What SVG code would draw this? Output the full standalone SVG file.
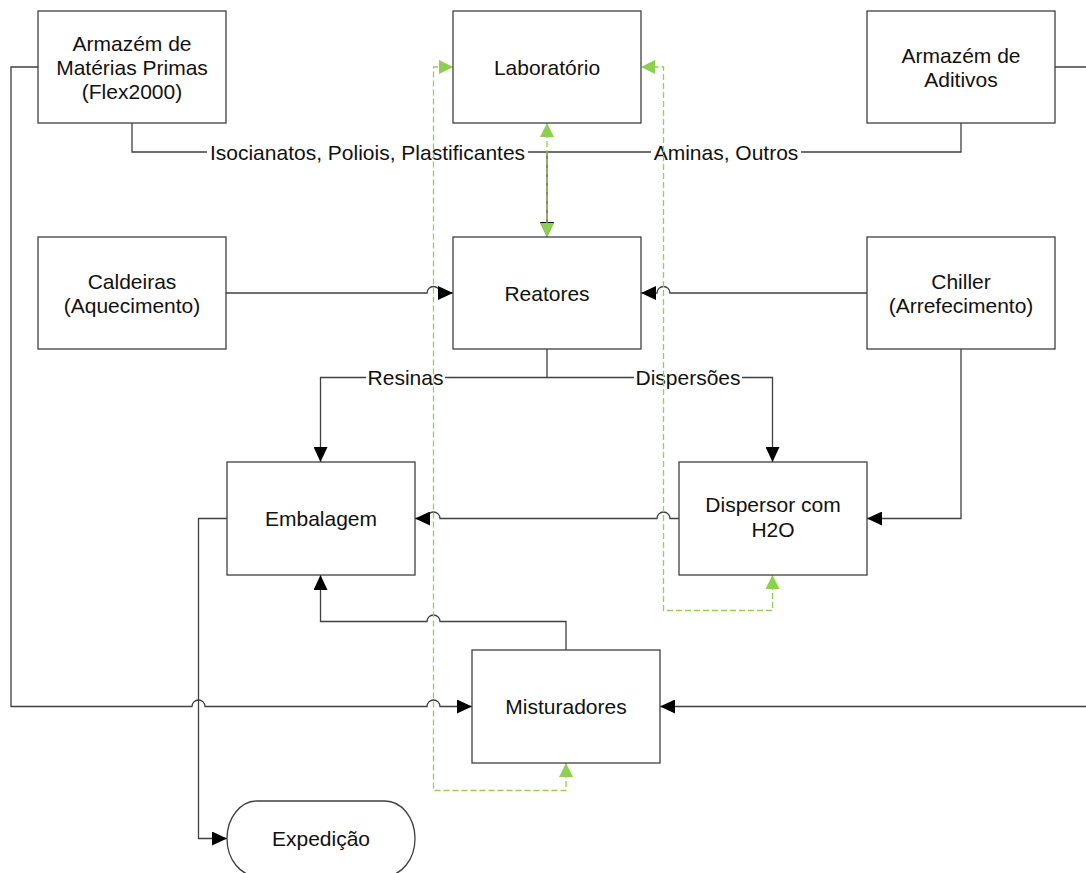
<svg xmlns="http://www.w3.org/2000/svg" width="1086" height="873" viewBox="0 0 1086 873">
<style>
.box{fill:#fff;stroke:#404040;stroke-width:1.3}
.t{font-family:"Liberation Sans",Arial,sans-serif;font-size:21px;fill:#111;text-anchor:middle}
.c{fill:none;stroke:#404040;stroke-width:1.3}
.ca{fill:none;stroke:#404040;stroke-width:1.3;marker-end:url(#ab)}
.g{fill:none;stroke:#92D050;stroke-width:1.3;stroke-dasharray:6,3;marker-start:url(#ag);marker-end:url(#ag)}
.lb{fill:#fff}
</style>
<defs>
<marker id="ab" markerUnits="userSpaceOnUse" markerWidth="16" markerHeight="14" refX="15" refY="7" orient="auto-start-reverse" viewBox="0 0 16 14">
<path d="M0,0 L15,7 L0,14 z" fill="#000"/>
</marker>
<marker id="ag" markerUnits="userSpaceOnUse" markerWidth="15" markerHeight="14" refX="14" refY="7" orient="auto-start-reverse" viewBox="0 0 15 14">
<path d="M0,0 L14,7 L0,14 z" fill="#8DCF4F"/>
</marker>
</defs>
<rect width="1086" height="873" fill="#fff"/>
<g id="connectors">
<path class="ca" d="M132,123 V152 H547 V237"/>
<path class="c" d="M961,123 V152 H547"/>
<path class="ca" d="M226,293 H427 A6.5,6.5 0 0 1 440,293 H453"/>
<path class="ca" d="M867,293 H670 A6.5,6.5 0 0 0 657,293 H641"/>
<path class="ca" d="M547,349 V377.5 H320.5 V462"/>
<path class="ca" d="M547,377.5 H772.5 V462"/>
<path class="ca" d="M961,349 V518.5 H867"/>
<path class="ca" d="M679,518.5 H670 A6.5,6.5 0 0 0 657,518.5 H440 A6.5,6.5 0 0 0 427,518.5 H415"/>
<path class="ca" d="M566,650 V621.5 H440 A6.5,6.5 0 0 0 427,621.5 H320.5 V575"/>
<path class="ca" d="M227,518.5 H198.5 V838.5 H227"/>
<path class="ca" d="M38,67 H11 V706.5 H192 A6.5,6.5 0 0 1 205,706.5 H427 A6.5,6.5 0 0 1 440,706.5 H472"/>
<path class="ca" d="M1055,67 H1095 V706.5 H660"/>
<rect class="lb" x="207" y="140" width="321" height="25"/>
<text class="t" x="367.5" y="159.5">Isocianatos, Poliois, Plastificantes</text>
<rect class="lb" x="651" y="140" width="150" height="25"/>
<text class="t" x="726" y="159.5">Aminas, Outros</text>
<rect class="lb" x="366" y="365" width="79" height="25"/>
<text class="t" x="405.5" y="385">Resinas</text>
<rect class="lb" x="634" y="365" width="108" height="25"/>
<text class="t" x="688" y="385">Dispersões</text>
<path class="g" d="M566,763 V790.5 H433.5 V67 H453"/>
<path class="g" d="M772.5,575 V610.5 H663.5 V67 H641"/>
<path class="g" d="M547,123 V237"/>
</g>
<g id="armazem-mp"><rect class="box" x="38" y="11" width="188" height="112"/>
<text class="t" x="132" y="50.5">Armazém de</text><text class="t" x="132" y="74.5">Matérias Primas</text><text class="t" x="132" y="98.5">(Flex2000)</text></g>
<g id="laboratorio"><rect class="box" x="453" y="11" width="188" height="112"/>
<text class="t" x="547" y="74.5">Laboratório</text></g>
<g id="armazem-aditivos"><rect class="box" x="867" y="11" width="188" height="112"/>
<text class="t" x="961" y="62.5">Armazém de</text><text class="t" x="961" y="86.5">Aditivos</text></g>
<g id="caldeiras"><rect class="box" x="38" y="237" width="188" height="112"/>
<text class="t" x="132" y="288.5">Caldeiras</text><text class="t" x="132" y="312.5">(Aquecimento)</text></g>
<g id="reatores"><rect class="box" x="453" y="237" width="188" height="112"/>
<text class="t" x="547" y="300.5">Reatores</text></g>
<g id="chiller"><rect class="box" x="867" y="237" width="188" height="112"/>
<text class="t" x="961" y="288.5">Chiller</text><text class="t" x="961" y="312.5">(Arrefecimento)</text></g>
<g id="embalagem"><rect class="box" x="227" y="462" width="188" height="113"/>
<text class="t" x="321" y="526">Embalagem</text></g>
<g id="dispersor"><rect class="box" x="679" y="462" width="188" height="113"/>
<text class="t" x="773" y="512">Dispersor com</text><text class="t" x="773" y="536.5">H2O</text></g>
<g id="misturadores"><rect class="box" x="472" y="650" width="188" height="113"/>
<text class="t" x="566" y="714">Misturadores</text></g>
<g id="expedicao"><rect class="box" x="227" y="801" width="188" height="75" rx="30" ry="37.5"/>
<text class="t" x="321" y="846">Expedição</text></g>
</svg>
